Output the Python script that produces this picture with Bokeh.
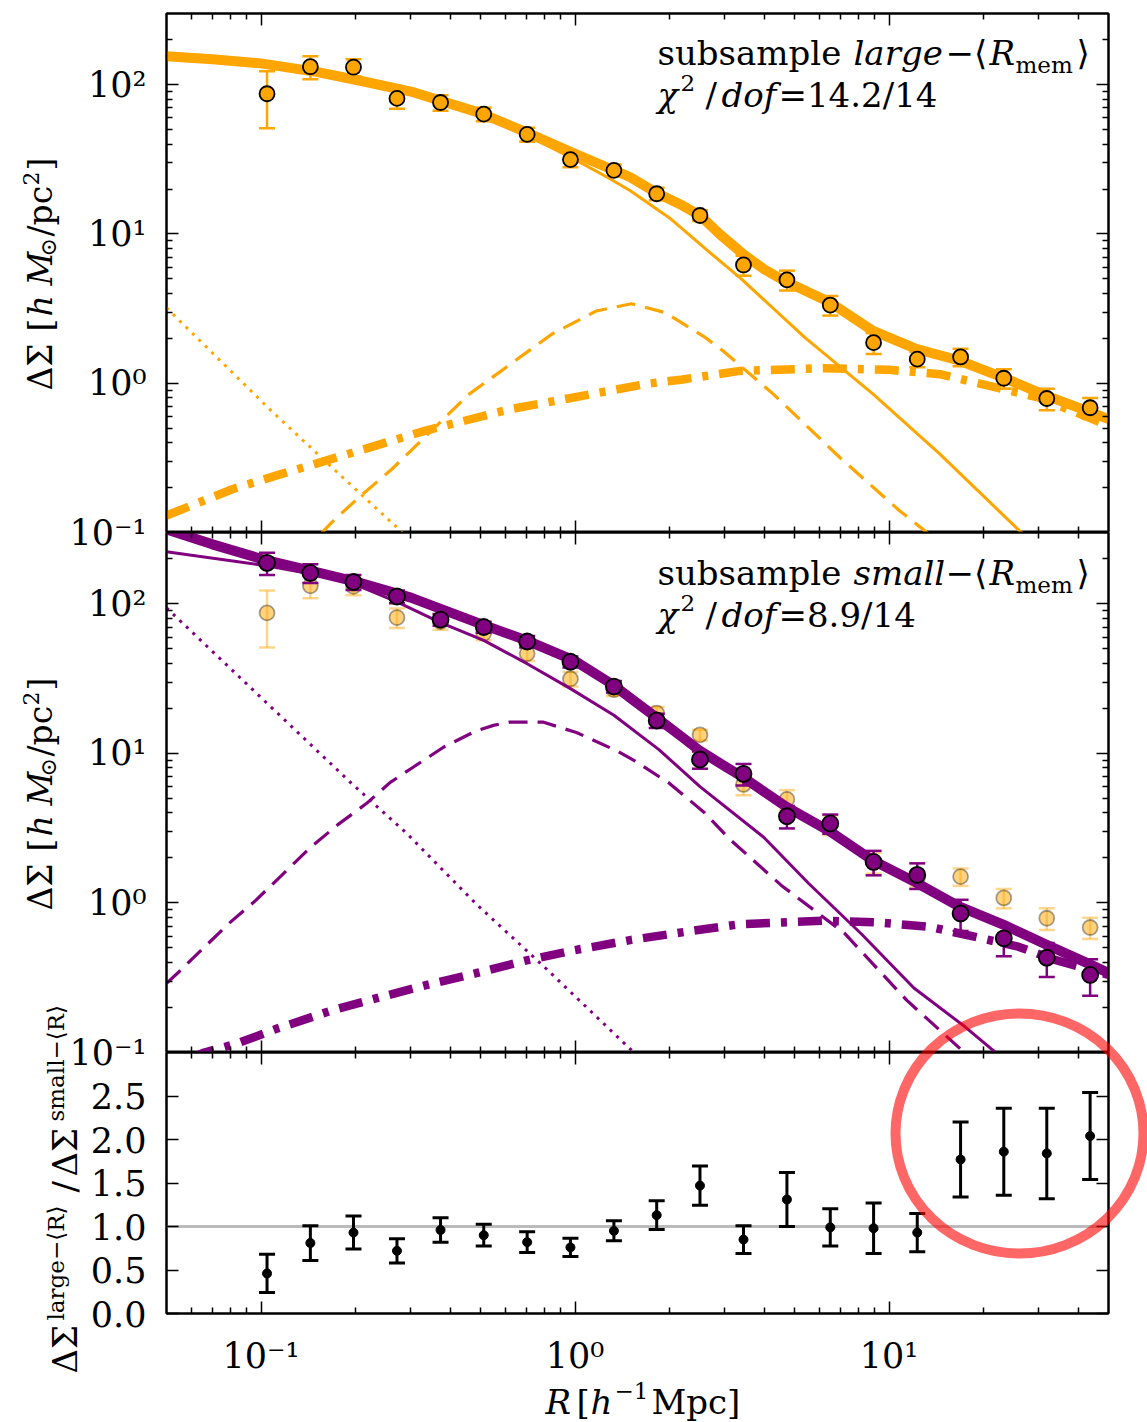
import math
from bokeh.plotting import figure
from bokeh.models import (LogAxis, LinearAxis, FixedTicker, Label, Span,
                          PrintfTickFormatter)
from bokeh.layouts import column
from bokeh.embed import file_html
from bokeh.resources import INLINE

# ---------------- data ----------------
R = [0.1045, 0.1436, 0.197, 0.271, 0.373, 0.512, 0.704, 0.967, 1.33, 1.82,
     2.50, 3.44, 4.73, 6.50, 8.93, 12.3, 16.9, 23.2, 31.8, 43.7]

ds_large = [87, 132, 131, 81, 76, 63.5, 46.5, 31.5, 26.7, 18.6,
            13.3, 6.2, 4.93, 3.34, 1.87, 1.45, 1.5, 1.08, 0.79, 0.685]
err_large = [36, 23, 17, 12, 9, 6.5, 5, 3.5, 2.5, 1.8,
             1.1, 0.95, 0.75, 0.5, 0.3, 0.17, 0.2, 0.16, 0.13, 0.11]

ds_small = [188, 161, 140, 112, 78.5, 70, 56, 41, 28, 16.6,
            9.1, 7.3, 3.8, 3.4, 1.88, 1.54, 0.85, 0.58, 0.43, 0.33]
err_small = [32, 23, 16, 11, 7, 6, 5, 3.5, 2.5, 1.8,
             1.2, 1.2, 0.65, 0.5, 0.35, 0.3, 0.2, 0.14, 0.11, 0.09]

ratio = [0.46, 0.81, 0.93, 0.72, 0.96, 0.90, 0.82, 0.76, 0.95, 1.13,
         1.47, 0.85, 1.31, 0.99, 0.98, 0.93, 1.77, 1.86, 1.84, 2.04]
ratio_err = [0.22, 0.20, 0.19, 0.14, 0.14, 0.125, 0.12, 0.105, 0.115, 0.165,
             0.225, 0.16, 0.31, 0.215, 0.29, 0.22, 0.43, 0.50, 0.52, 0.50]

# model curves, large-<R_mem>
tot_L_x = [0.05, 0.07, 0.1, 0.15, 0.2, 0.3, 0.5, 0.7, 1.0, 1.5, 1.82, 2.2, 2.5, 2.9,
           3.44, 4.0, 4.69, 5.5, 6.5, 8.9, 12.2, 16.7, 22.9, 31.5, 42.9, 50]
tot_L_y = [155, 148, 139, 122, 108, 90, 64.5, 48, 34.5, 24, 18.8, 15.5, 13.3, 9.9,
           7.3, 5.8, 4.8, 4.1, 3.47, 2.24, 1.7, 1.42, 1.1, 0.83, 0.65, 0.575]
one_L_x = [0.05, 0.1, 0.2, 0.3, 0.5, 0.7, 1.0, 1.28, 1.5, 2.0, 2.65, 3.35, 5.4, 8.9,
           14.5, 26.0, 30.0]
one_L_y = [151, 136, 105, 87, 62, 46, 31.5, 23.7, 19.5, 12.8, 7.7, 5.1, 2.02, 0.845,
           0.336, 0.103, 0.08]
off_L_x = [0.155, 0.168, 0.205, 0.258, 0.307, 0.376, 0.46, 0.622, 0.843, 1.17, 1.51,
           1.94, 2.56, 2.97, 4.28, 6.97, 10.8, 13.2, 14.0]
off_L_y = [0.098, 0.117, 0.172, 0.26, 0.37, 0.56, 0.845, 1.34, 2.13, 3.05, 3.41,
           2.97, 2.07, 1.64, 0.845, 0.318, 0.14, 0.1, 0.09]
bcg_L_x = [0.05, 0.1065, 0.177, 0.271, 0.29]
bcg_L_y = [3.2, 0.67, 0.247, 0.108, 0.094]
two_L_x = [0.05, 0.081, 0.115, 0.205, 0.332, 0.622, 0.98, 1.69, 2.2, 3.35, 6.17,
           10.0, 14.5, 20.9, 30.1, 49.0, 50.0]
two_L_y = [0.13, 0.195, 0.245, 0.353, 0.48, 0.67, 0.80, 0.99, 1.06, 1.21, 1.26,
           1.23, 1.15, 0.96, 0.80, 0.53, 0.52]

# model curves, small-<R_mem>
tot_S_x = [0.05, 0.07, 0.1, 0.15, 0.2, 0.3, 0.5, 0.7, 1.0, 1.33, 1.5, 1.82, 2.2, 2.5,
           3.0, 3.44, 4.7, 6.5, 8.9, 12.2, 16.7, 23.0, 31.5, 43.5, 50.0]
tot_S_y = [315, 250, 200, 163, 141, 110, 73.5, 57, 41.5, 28.5, 23.5, 17.3, 12.8, 10.4,
           8.2, 6.9, 4.4, 3.0, 1.92, 1.37, 0.95, 0.72, 0.53, 0.39, 0.34]
one_S_x = [0.05, 0.104, 0.144, 0.197, 0.271, 0.373, 0.512, 0.704, 0.967, 1.33, 1.85,
           2.5, 3.99, 5.55, 8.17, 12.0, 17.5, 21.5, 23.0]
one_S_y = [223, 180, 159, 136, 103, 75, 57, 39.8, 27.1, 18.0, 10.6,
           6.0, 2.75, 1.35, 0.62, 0.27, 0.148, 0.103, 0.09]
off_S_x = [0.05, 0.0546, 0.066, 0.0787, 0.0962, 0.1148, 0.144, 0.177, 0.216, 0.258,
           0.3, 0.381, 0.486, 0.55, 0.62, 0.79, 1.01, 1.36, 1.55, 2.0, 2.59, 3.09,
           4.54, 7.2, 11.4, 17.1, 18.0]
off_S_y = [0.29, 0.344, 0.506, 0.724, 1.04, 1.49, 2.36, 3.38, 4.6, 6.4,
           7.9, 11.0, 14.2, 15.4, 16.2, 16.2, 13.8, 10.4, 8.9, 6.3, 4.0, 2.7,
           1.31, 0.63, 0.223, 0.103, 0.09]
bcg_S_x = [0.05, 0.195, 0.292, 0.484, 0.802, 1.51, 1.56]
bcg_S_y = [94, 6.25, 2.9, 0.986, 0.37, 0.104, 0.097]
two_S_x = [0.06, 0.066, 0.083, 0.112, 0.168, 0.239, 0.331, 0.484, 0.69, 0.98, 1.51,
           2.31, 3.34, 6.17, 9.3, 13.6, 19.0, 25.8, 33.3, 45.3, 50.0]
two_S_y = [0.092, 0.1, 0.114, 0.144, 0.191, 0.234, 0.28, 0.339, 0.41, 0.48, 0.566,
           0.647, 0.72, 0.76, 0.74, 0.69, 0.59, 0.51, 0.42, 0.35, 0.33]

x_major = [0.1, 1, 10]
x_minor = [0.06, 0.07, 0.08, 0.09, 0.2, 0.3, 0.4, 0.5, 0.6, 0.7, 0.8, 0.9,
           2, 3, 4, 5, 6, 7, 8, 9, 20, 30, 40]
y_major = [0.1, 1, 10, 100]
y_minor = [0.2, 0.3, 0.4, 0.5, 0.6, 0.7, 0.8, 0.9, 2, 3, 4, 5, 6, 7, 8, 9,
           20, 30, 40, 50, 60, 70, 80, 90, 200]
r_major = [0.0, 0.5, 1.0, 1.5, 2.0, 2.5]

# ---------------- styling / geometry ----------------
ORANGE = "#ffa500"
PURPLE = "#800080"
FONT = "DejaVu Serif"
PAGE_W, PAGE_H = 1147, 1422
LEFT, RIGHT = 166, 1108
FW = RIGHT - LEFT
X_LO, X_HI = 0.05, 50.0
Y_LO, Y_HI = 0.1, 300.0
R_LO, R_HI = 0.0, 3.0
PANELS = {"top": (13, 519), "mid": (532, 520), "bot": (1052, 261)}
BASE_FIX = 0.3   # baseline correction (fraction of font size) for Label text


def px_to_x(px):
    lo, hi = math.log10(X_LO), math.log10(X_HI)
    return 10 ** (lo + (px - LEFT) / FW * (hi - lo))


def py_to_y(py, panel):
    top, h = PANELS[panel]
    f = (top + h - py) / h
    if panel == "bot":
        return R_LO + f * (R_HI - R_LO)
    lo, hi = math.log10(Y_LO), math.log10(Y_HI)
    return 10 ** (lo + f * (hi - lo))


def style_axis(ax, labels, overrides=None, standoff=20):
    ax.axis_line_color = "black"
    ax.axis_line_width = 2
    ax.major_tick_in = 12
    ax.major_tick_out = 0
    ax.minor_tick_in = 6
    ax.minor_tick_out = 0
    ax.major_tick_line_width = 1.5
    ax.minor_tick_line_width = 1.5
    ax.major_tick_line_color = "black"
    ax.minor_tick_line_color = "black"
    if labels:
        ax.major_label_text_font = FONT
        ax.major_label_text_font_size = "35px"
        ax.major_label_text_color = "black"
        ax.major_label_standoff = standoff
        if overrides is not None:
            ax.major_label_overrides = overrides
    else:
        ax.major_label_text_font_size = "1px"
        ax.major_label_text_alpha = 0
        ax.major_label_standoff = 0


def make_fig(panel):
    top, h = PANELS[panel]
    ylog = panel != "bot"
    p = figure(x_axis_type="log", y_axis_type="log" if ylog else "linear",
               x_range=(X_LO, X_HI),
               y_range=(Y_LO, Y_HI) if ylog else (R_LO, R_HI),
               frame_width=FW, frame_height=h,
               min_border_left=LEFT, min_border_right=PAGE_W - RIGHT,
               min_border_top=13 if panel == "top" else 0,
               min_border_bottom=109 if panel == "bot" else 0,
               x_axis_location=None, y_axis_location=None,
               toolbar_location=None, output_backend="svg")
    p.xgrid.visible = False
    p.ygrid.visible = False
    p.outline_line_color = "black"
    p.outline_line_width = 2

    xt = FixedTicker(ticks=x_major, minor_ticks=x_minor)
    ax_top = LogAxis(ticker=xt)
    style_axis(ax_top, False)
    p.add_layout(ax_top, "above")
    ax_bot = LogAxis(ticker=xt)
    if panel == "bot":
        style_axis(ax_bot, True, {0.1: "10⁻¹", 1: "10⁰", 10: "10¹"}, standoff=22)
    else:
        style_axis(ax_bot, False)
    p.add_layout(ax_bot, "below")

    if ylog:
        yt = FixedTicker(ticks=y_major, minor_ticks=y_minor)
        ax_l = LogAxis(ticker=yt)
        style_axis(ax_l, True, {0.1: "", 1: "10⁰", 10: "10¹", 100: "10²"})
        ax_r = LogAxis(ticker=yt)
    else:
        yt = FixedTicker(ticks=r_major, minor_ticks=[])
        ax_l = LinearAxis(ticker=yt, formatter=PrintfTickFormatter(format="%.1f"))
        style_axis(ax_l, True)
        ax_r = LinearAxis(ticker=yt)
    style_axis(ax_r, False)
    p.add_layout(ax_l, "left")
    p.add_layout(ax_r, "right")
    return p


def put_text(p, panel, px, py, text, size, italic=False):
    py = py - BASE_FIX * size
    p.add_layout(Label(x=px_to_x(px), y=py_to_y(py, panel), text=text,
                       text_font=FONT, text_font_size=f"{size}px",
                       text_font_style="italic" if italic else "normal",
                       text_align="left", text_baseline="alphabetic",
                       text_color="black"))


def errorbars(p, x, y, e, color, alpha, lw, cap):
    lo = [a - b for a, b in zip(y, e)]
    hi = [a + b for a, b in zip(y, e)]
    p.segment(x0=x, y0=lo, x1=x, y1=hi, line_color=color, line_alpha=alpha,
              line_width=lw)
    p.scatter(list(x) + list(x), lo + hi, marker="dash", size=cap,
              line_color=color, line_alpha=alpha, line_width=lw)


def curves(p, color, tot, one, off, bcg, two):
    p.line(two[0], two[1], line_color=color, line_width=8.5, line_dash="24 11 6 11")
    p.line(bcg[0], bcg[1], line_color=color, line_width=3, line_dash="3 6")
    p.line(off[0], off[1], line_color=color, line_width=3.2, line_dash="19 10")
    p.line(one[0], one[1], line_color=color, line_width=3)
    p.line(tot[0], tot[1], line_color=color, line_width=10, line_join="round")


# ---------------- top panel ----------------
p1 = make_fig("top")
curves(p1, ORANGE, (tot_L_x, tot_L_y), (one_L_x, one_L_y), (off_L_x, off_L_y),
       (bcg_L_x, bcg_L_y), (two_L_x, two_L_y))
errorbars(p1, R, ds_large, err_large, ORANGE, 1.0, 2.5, 16)
p1.scatter(R, ds_large, marker="circle", size=15, fill_color=ORANGE,
           line_color="black", line_width=1.8)

# ---------------- middle panel ----------------
p2 = make_fig("mid")
errorbars(p2, R, ds_large, err_large, ORANGE, 0.45, 2.5, 16)
p2.scatter(R, ds_large, marker="circle", size=15, fill_color=ORANGE, fill_alpha=0.5,
           line_color="black", line_alpha=0.35, line_width=1.8)
curves(p2, PURPLE, (tot_S_x, tot_S_y), (one_S_x, one_S_y), (off_S_x, off_S_y),
       (bcg_S_x, bcg_S_y), (two_S_x, two_S_y))
errorbars(p2, R, ds_small, err_small, PURPLE, 1.0, 2.5, 16)
p2.scatter(R, ds_small, marker="circle", size=16, fill_color=PURPLE,
           line_color="black", line_width=1.8)

# ---------------- bottom panel ----------------
p3 = make_fig("bot")
p3.add_layout(Span(location=1.0, dimension="width", line_color="#bbbbbb",
                   line_width=3, level="underlay"))
errorbars(p3, R, ratio, ratio_err, "black", 1.0, 3, 16)
p3.scatter(R, ratio, marker="circle", size=9, fill_color="black", line_color="black")

# ---------------- in-panel texts ----------------
for p, panel, base, word, chi in ((p1, "top", 63, "large", "=14.2/14"),
                                  (p2, "mid", 583, "small", "=8.9/14")):
    put_text(p, panel, 657, base, "subsample", 34)
    put_text(p, panel, 853, base, word, 34, italic=True)
    put_text(p, panel, 945, base, "−⟨", 34)
    put_text(p, panel, 989, base, "R", 34, italic=True)
    put_text(p, panel, 1015, base + 8, "mem", 23)
    put_text(p, panel, 1076, base, "⟩", 34)
    b2 = base + 42
    put_text(p, panel, 657, b2, "χ", 34, italic=True)
    put_text(p, panel, 680, b2 - 16, "2", 23)
    put_text(p, panel, 705, b2, "/", 34)
    put_text(p, panel, 721, b2, "dof", 34, italic=True)
    put_text(p, panel, 778, b2, chi, 34)

# ---------------- transparent overlay in page pixels (texts outside frames, ring) ----
ov = figure(width=PAGE_W, height=PAGE_H, x_range=(0, PAGE_W), y_range=(0, PAGE_H),
            min_border=0, min_border_left=0, min_border_right=0,
            min_border_top=0, min_border_bottom=0,
            x_axis_location=None, y_axis_location=None,
            toolbar_location=None, output_backend="svg",
            frame_align=False, margin=(-PAGE_H, 0, 0, 0))
ov.xgrid.visible = False
ov.ygrid.visible = False
ov.outline_line_color = None
ov.background_fill_color = None
ov.border_fill_color = None


def otext(px, py, text, size, italic=False, vertical=False, middle=False):
    if middle:
        baseline = "middle"
    else:
        baseline = "alphabetic"
        if vertical:
            px = px - BASE_FIX * size
        else:
            py = py - BASE_FIX * size
    ov.add_layout(Label(x=px, y=PAGE_H - py, text=text,
                        angle=90 if vertical else 0, angle_units="deg",
                        text_font=FONT, text_font_size=f"{size}px",
                        text_font_style="italic" if italic else "normal",
                        text_align="right" if middle else "left",
                        text_baseline=baseline, text_color="black"))


# tick labels sitting on the panel joins
otext(146, 532, "10⁻¹", 35, middle=True)
otext(146, 1052, "10⁻¹", 35, middle=True)

# y labels of the two upper panels
for dy in (0, 520):
    otext(50, 390 + dy, "ΔΣ", 33, vertical=True)
    otext(50, 331 + dy, "[", 33, vertical=True)
    otext(50, 316 + dy, "h", 33, italic=True, vertical=True)
    otext(50, 285 + dy, "M", 33, italic=True, vertical=True)
    otext(55, 256 + dy, "⊙", 22, vertical=True)
    otext(50, 236 + dy, "/pc", 33, vertical=True)
    otext(37, 185 + dy, "2", 22, vertical=True)
    otext(50, 170 + dy, "]", 33, vertical=True)

# y label of the ratio panel
otext(75, 1373, "ΔΣ", 34, vertical=True)
otext(62, 1320, "large−⟨R⟩", 23, vertical=True)
otext(75, 1192, "/", 34, vertical=True)
otext(75, 1176, "ΔΣ", 34, vertical=True)
otext(62, 1121, "small−⟨R⟩", 23, vertical=True)

# x label
otext(545, 1412, "R", 34, italic=True)
otext(576, 1412, "[", 34)
otext(590, 1412, "h", 34, italic=True)
otext(614, 1397, "−1", 23)
otext(651, 1412, "Mpc]", 34)

# red highlight ring over the last four ratio points
ov.ellipse(x=[1019], y=[PAGE_H - 1133], width=[248], height=[240],
           fill_color=None, line_color="red", line_alpha=0.6, line_width=10)

layout = column(p1, p2, p3, ov, spacing=0)
open("out.html", "w").write(file_html(layout, INLINE, title="Delta Sigma"))
